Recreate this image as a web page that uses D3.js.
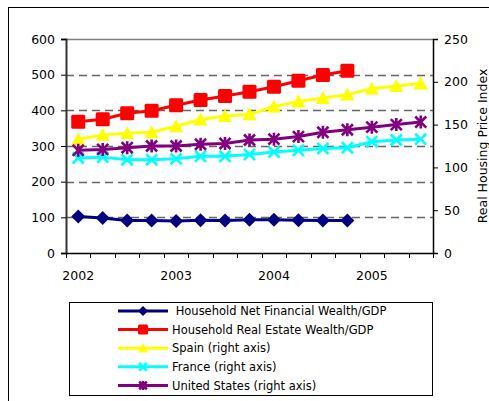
<!DOCTYPE html>
<html>
<head>
<meta charset="utf-8">
<script src="https://cdn.jsdelivr.net/npm/d3@7/dist/d3.min.js"></script>
<style>
  html, body { margin: 0; padding: 0; background: #fff; }
  svg { display: block; }
  text { font-family: "DejaVu Sans", Verdana, sans-serif; fill: #000; }
</style>
</head>
<body>
<svg id="chart" width="489" height="401"></svg>
<script>
// Quarterly observations, 2002 Q1 – 2005 Q3
const quarters = [
  "2002Q1","2002Q2","2002Q3","2002Q4",
  "2003Q1","2003Q2","2003Q3","2003Q4",
  "2004Q1","2004Q2","2004Q3","2004Q4",
  "2005Q1","2005Q2","2005Q3"
];
const yearLabels = ["2002", "2003", "2004", "2005"];

// Left axis (percent of GDP)
const netFinancialWealth = [102, 98, 91, 91, 90, 92, 91, 93, 93, 92, 91, 91];
const realEstateWealth   = [368, 375, 392, 399, 414, 429, 440, 452, 466, 483, 499, 511];

// Right axis (real housing price index)
const spain        = [133, 138, 140, 141, 148, 156, 160, 162, 171, 177, 181, 185, 192, 195, 198];
const france       = [111, 112, 109, 109, 110, 113, 113, 115, 118, 120, 122, 123, 130, 132, 133];
const unitedStates = [120, 121, 123, 125, 125, 127, 128, 132, 133, 136, 141, 144, 147, 150, 153];

const leftTicks  = [0, 100, 200, 300, 400, 500, 600];
const rightTicks = [0, 50, 100, 150, 200, 250];

const series = [
  { name: " Household Net Financial Wealth/GDP", values: netFinancialWealth, axis: "left",  color: "#000080", marker: "diamond" },
  { name: "Household Real Estate Wealth/GDP",    values: realEstateWealth,   axis: "left",  color: "#FF0000", marker: "square" },
  { name: "Spain (right axis)",                  values: spain,              axis: "right", color: "#FFFF00", marker: "triangle" },
  { name: "France (right axis)",                 values: france,             axis: "right", color: "#00FFFF", marker: "x" },
  { name: "United States (right axis)",          values: unitedStates,       axis: "right", color: "#800080", marker: "star" }
];

const svg = d3.select("#chart");

// outer frame
svg.append("rect")
  .attr("x", 8.5).attr("y", 7.5)
  .attr("width", 500).attr("height", 420)
  .attr("fill", "none").attr("stroke", "#000").attr("stroke-width", 1);

const plot = { left: 66, right: 433, top: 39, bottom: 253 };

const x = d3.scaleBand().domain(quarters).range([plot.left, plot.right]).paddingInner(0).paddingOuter(0);
const yL = d3.scaleLinear().domain([0, 600]).range([plot.bottom, plot.top]);
const yR = d3.scaleLinear().domain([0, 250]).range([plot.bottom, plot.top]);
const cx = q => x(q) + x.bandwidth() / 2;

// dashed gridlines
svg.append("g")
  .selectAll("line")
  .data(leftTicks.filter(t => t > 0 && t < 600))
  .join("line")
  .attr("x1", plot.left).attr("x2", plot.right)
  .attr("y1", d => Math.round(yL(d)) + 0.5).attr("y2", d => Math.round(yL(d)) + 0.5)
  .attr("stroke", "#666").attr("stroke-width", 1.5)
  .attr("stroke-dasharray", "8,5");

// top border of plot area
svg.append("line")
  .attr("x1", plot.left).attr("x2", plot.right)
  .attr("y1", plot.top + 0.5).attr("y2", plot.top + 0.5)
  .attr("stroke", "#808080").attr("stroke-width", 1.5);

// left axis
const gL = svg.append("g").attr("transform", `translate(${plot.left},0)`)
  .call(d3.axisLeft(yL).tickValues(leftTicks).tickSize(5).tickPadding(6));
gL.select(".domain").attr("stroke", "#333").attr("stroke-width", 2);
gL.selectAll(".tick line").attr("stroke", "#000");
gL.selectAll("text").attr("font-size", 12.5).attr("font-family", "DejaVu Sans");

// right axis
const gR = svg.append("g").attr("transform", `translate(${plot.right},0)`)
  .call(d3.axisRight(yR).tickValues(rightTicks).tickSize(5).tickPadding(6));
gR.select(".domain").attr("stroke", "#000").attr("stroke-width", 1.5);
gR.selectAll(".tick line").attr("stroke", "#000");
gR.selectAll("text").attr("font-size", 12.5).attr("font-family", "DejaVu Sans");

// bottom axis: tick marks between quarters, year labels on first quarters
const gB = svg.append("g").attr("transform", `translate(0,${plot.bottom})`)
  .call(d3.axisBottom(x).tickSize(0).tickPadding(18)
    .tickFormat(q => q.endsWith("Q1") ? yearLabels[quarters.indexOf(q) / 4] : ""));
gB.select(".domain").remove();
gB.selectAll("text").attr("font-size", 12.5).attr("font-family", "DejaVu Sans");
svg.append("g")
  .selectAll("line")
  .data(quarters.concat(["end"]))
  .join("line")
  .attr("x1", (d, i) => Math.round(i < quarters.length ? x(d) : plot.right) + 0.5)
  .attr("x2", (d, i) => Math.round(i < quarters.length ? x(d) : plot.right) + 0.5)
  .attr("y1", plot.bottom).attr("y2", plot.bottom + 5)
  .attr("stroke", "#000");
svg.append("line")
  .attr("x1", plot.left).attr("x2", plot.right + 1)
  .attr("y1", plot.bottom + 0.5).attr("y2", plot.bottom + 0.5)
  .attr("stroke", "#000").attr("stroke-width", 1.5);

// right axis title
svg.append("text")
  .attr("transform", `translate(487,${(plot.top + plot.bottom) / 2}) rotate(-90)`)
  .attr("text-anchor", "middle")
  .attr("font-size", 12.5)
  .text("Real Housing Price Index");

// marker painter
function drawMarker(g, type, color, s) {
  const h = s / 2;
  if (type === "diamond") {
    g.append("path").attr("d", `M0,${-h}L${h},0L0,${h}L${-h},0Z`).attr("fill", color);
  } else if (type === "square") {
    g.append("rect").attr("x", -h).attr("y", -h).attr("width", s).attr("height", s)
      .attr("rx", 1.5).attr("fill", color);
  } else if (type === "triangle") {
    g.append("path").attr("d", `M0,${-h}L${h},${h * 0.85}L${-h},${h * 0.85}Z`).attr("fill", color);
  } else if (type === "x" || type === "star") {
    const k = h * 0.85;
    let d = `M${-k},${-k}L${k},${k}M${-k},${k}L${k},${-k}`;
    if (type === "star") d += `M0,${-h}L0,${h}`;
    g.append("path").attr("d", d).attr("stroke", color).attr("stroke-width", 2.6).attr("fill", "none");
  }
}

const markerSize = { diamond: 14, square: 14, triangle: 14, x: 13, star: 13 };

// series lines and markers
series.forEach(s => {
  const y = s.axis === "left" ? yL : yR;
  const pts = s.values.map((v, i) => [cx(quarters[i]), y(v)]);
  svg.append("path")
    .attr("d", d3.line()(pts))
    .attr("fill", "none").attr("stroke", s.color).attr("stroke-width", 3)
    .attr("stroke-linejoin", "round");
  const mg = svg.append("g");
  pts.forEach(p => {
    drawMarker(mg.append("g").attr("transform", `translate(${p[0]},${p[1]})`), s.marker, s.color, markerSize[s.marker]);
  });
});

// legend
const legend = svg.append("g");
legend.append("rect")
  .attr("x", 69.5).attr("y", 302.5).attr("width", 363).attr("height", 93)
  .attr("fill", "#fff").attr("stroke", "#000");
const legendMarker = { diamond: 10, square: 10, triangle: 10, x: 9, star: 9 };
series.forEach((s, i) => {
  const yy = 311 + i * 18.6;
  legend.append("line")
    .attr("x1", 118).attr("x2", 168).attr("y1", yy).attr("y2", yy)
    .attr("stroke", s.color).attr("stroke-width", 3);
  drawMarker(legend.append("g").attr("transform", `translate(143,${yy})`), s.marker, s.color, legendMarker[s.marker]);
  legend.append("text")
    .attr("x", 172).attr("y", yy).attr("dy", "0.36em")
    .attr("font-size", 11.5)
    .attr("xml:space", "preserve")
    .style("white-space", "pre")
    .text(s.name);
});
</script>
</body>
</html>
